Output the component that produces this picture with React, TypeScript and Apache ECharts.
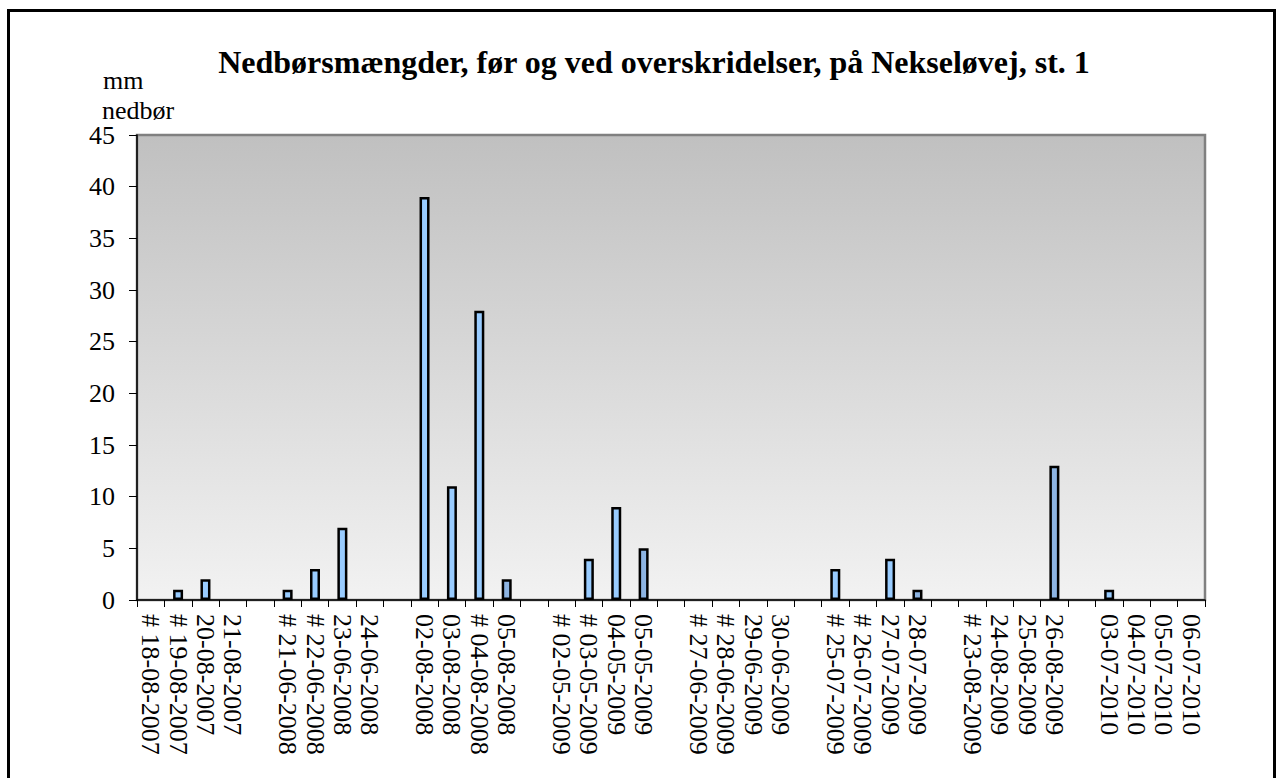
import React, { useEffect, useRef } from "react";
import * as echarts from "echarts";

const titleText = "Nedbørsmængder, før og ved overskridelser, på Nekseløvej, st. 1";
const yUnitLines = ["mm", "nedbør"];

const categories = [
  "# 18-08-2007", "# 19-08-2007", "20-08-2007", "21-08-2007", "",
  "# 21-06-2008", "# 22-06-2008", "23-06-2008", "24-06-2008", "",
  "02-08-2008", "03-08-2008", "# 04-08-2008", "05-08-2008", "",
  "# 02-05-2009", "# 03-05-2009", "04-05-2009", "05-05-2009", "",
  "# 27-06-2009", "# 28-06-2009", "29-06-2009", "30-06-2009", "",
  "# 25-07-2009", "# 26-07-2009", "27-07-2009", "28-07-2009", "",
  "# 23-08-2009", "24-08-2009", "25-08-2009", "26-08-2009", "",
  "03-07-2010", "04-07-2010", "05-07-2010", "06-07-2010",
];

const values: (number | null)[] = [
  null, 1, 2, null, null,
  1, 3, 7, null, null,
  39, 11, 28, 2, null,
  null, 4, 9, 5, null,
  null, null, null, null, null,
  3, null, 4, 1, null,
  null, null, null, 13, null,
  1, null, null, null,
];

// dates whose bar is drawn in the darker blue
const darkerBars = ["05-08-2008", "05-05-2009", "28-07-2009", "26-08-2009"];

const yMin = 0;
const yMax = 45;
const yStep = 5;

const FONT = "'Liberation Serif', 'Times New Roman', serif";

export default function App() {
  const ref = useRef<HTMLDivElement>(null);

  useEffect(() => {
    if (!ref.current) return;
    const chart = echarts.init(ref.current, null, { renderer: "svg" });
    const option: any = {
      animation: false,
      backgroundColor: "#ffffff",
      grid: {
        left: 137,
        right: 74,
        top: 135,
        bottom: 178,
        show: true,
        borderColor: "#808080",
        borderWidth: 2.5,
        backgroundColor: new echarts.graphic.LinearGradient(0, 0, 0, 1, [
          { offset: 0, color: "#c0c0c0" },
          { offset: 1, color: "#f2f2f2" },
        ]),
      },
      xAxis: {
        type: "category",
        data: categories,
        boundaryGap: true,
        axisLine: { show: true, lineStyle: { color: "#000", width: 1.5 } },
        axisTick: { show: true, interval: 0, length: 7, lineStyle: { color: "#000", width: 1 } },
        axisLabel: {
          interval: 0,
          rotate: -90,
          fontSize: 26,
          fontFamily: FONT,
          color: "#000",
          margin: 14,
        },
        splitLine: { show: false },
      },
      yAxis: {
        type: "value",
        min: yMin,
        max: yMax,
        interval: yStep,
        axisLine: { show: true, lineStyle: { color: "#000", width: 1.5 } },
        axisTick: { show: true, length: 8, lineStyle: { color: "#000", width: 1 } },
        axisLabel: { fontSize: 26, fontFamily: FONT, color: "#000", margin: 22 },
        splitLine: { show: false },
      },
      series: [
        {
          type: "bar",
          data: values,
          barWidth: 10,
          itemStyle: {
            color: (p: any) =>
              darkerBars.indexOf(categories[p.dataIndex]) >= 0 ? "#8db4e2" : "#99ccff",
            borderColor: "#000",
            borderWidth: 2.5,
          },
        },
      ],
      graphic: [
        {
          type: "rect",
          silent: true,
          shape: { x: 8.5, y: 10.5, width: 1266, height: 820 },
          style: { fill: "none", stroke: "#000", lineWidth: 3 },
        },
        {
          type: "text",
          x: 654,
          y: 62,
          style: {
            text: titleText,
            font: `bold 32px ${FONT}`,
            fill: "#000",
            align: "center",
            verticalAlign: "middle",
          },
        },
        {
          type: "text",
          x: 103,
          y: 80,
          style: {
            text: yUnitLines[0],
            font: `26px ${FONT}`,
            fill: "#000",
            align: "left",
            verticalAlign: "middle",
          },
        },
        {
          type: "text",
          x: 102,
          y: 110,
          style: {
            text: yUnitLines[1],
            font: `26px ${FONT}`,
            fill: "#000",
            align: "left",
            verticalAlign: "middle",
          },
        },
      ],
    };
    chart.setOption(option);
    return () => chart.dispose();
  }, []);

  return (
    <div
      ref={ref}
      style={{ position: "fixed", left: 0, top: 0, width: 1279, height: 778 }}
    />
  );
}
